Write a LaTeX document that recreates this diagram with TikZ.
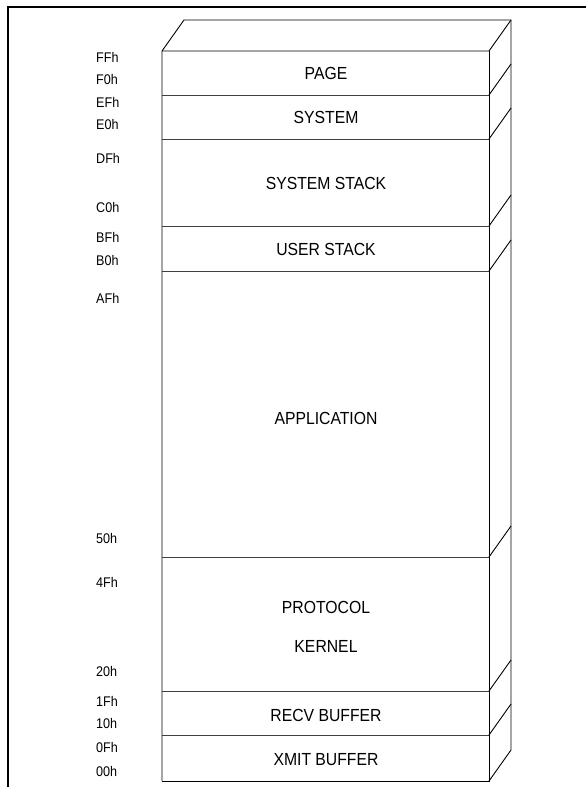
\documentclass[tikz,border=0pt]{standalone}
\usepackage{fontspec}
\setmainfont[FakeStretch=0.9]{Liberation Sans}
\begin{document}
\begin{tikzpicture}[x=1pt,y=-1pt,
  frame/.style={line width=2.2pt,black},
  edge/.style={line width=0.9pt,black},
  sep/.style={line width=0.9pt,black!75},
  addr/.style={anchor=west,inner sep=0pt,font=\fontsize{14}{16}\selectfont},
  layer/.style={inner sep=0pt,font=\fontsize{17.5}{19}\selectfont}]
\useasboundingbox (0,0) rectangle (586,787);
% frame
\draw[frame] (586,7) -- (8,7) -- (8,787);
% box geometry
\coordinate (tl) at (162,51);
\coordinate (tr) at (489,51);
\coordinate (btl) at (184,20);
\coordinate (btr) at (511,20);
\coordinate (bbr) at (511,750);
\coordinate (bl) at (162,781);
\coordinate (br) at (489,781);
\draw[edge] (bl) -- (tl) -- (btl) -- (btr) -- (bbr) -- (br);
\draw[edge] (tl) -- (tr) -- (btr);
\draw[edge] (tr) -- (br) -- (bl);
% separators
\foreach \y in {95,139,226,271,557,691,735}{
  \draw[sep] (162,\y) -- (489,\y);
  \draw[edge] (489,\y) -- (511,\y-31);
}
% layer names
\node[layer] (page) at (326,73) {PAGE};
\node[layer] (system) at (326,117) {SYSTEM};
\node[layer] (sstack) at (326,183) {SYSTEM STACK};
\node[layer] (ustack) at (326,249) {USER STACK};
\node[layer] (app) at (326,418) {APPLICATION};
\node[layer] (proto) at (326,607) {PROTOCOL};
\node[layer] (kernel) at (326,646) {KERNEL};
\node[layer] (recv) at (326,715) {RECV BUFFER};
\node[layer] (xmit) at (326,760) {XMIT BUFFER};
% addresses
\node[addr] (aFF) at (96,57.5) {FFh};
\node[addr] (aF0) at (96,79) {F0h};
\node[addr] (aEF) at (96,102) {EFh};
\node[addr] (aE0) at (96,124) {E0h};
\node[addr] (aDF) at (96,158) {DFh};
\node[addr] (aC0) at (96,207) {C0h};
\node[addr] (aBF) at (96,237) {BFh};
\node[addr] (aB0) at (96,260) {B0h};
\node[addr] (aAF) at (96,298) {AFh};
\node[addr] (a50) at (96,538) {50h};
\node[addr] (a4F) at (96,582) {4Fh};
\node[addr] (a20) at (96,671) {20h};
\node[addr] (a1F) at (96,701) {1Fh};
\node[addr] (a10) at (96,723) {10h};
\node[addr] (a0F) at (96,747) {0Fh};
\node[addr] (a00) at (96,771) {00h};
\end{tikzpicture}
\end{document}
